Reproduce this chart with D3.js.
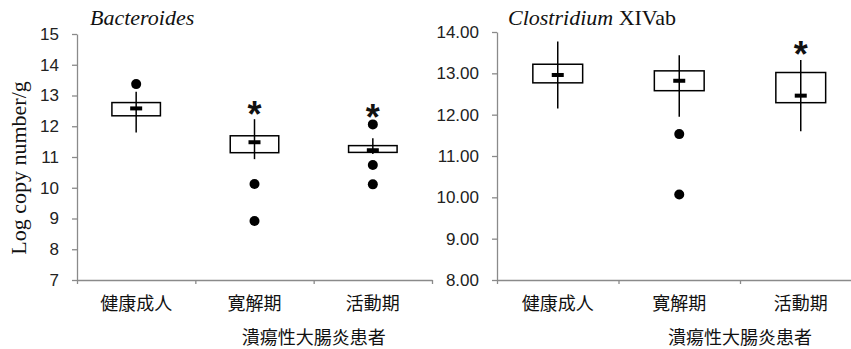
<!DOCTYPE html>
<html>
<head>
<meta charset="utf-8">
<script src="https://cdn.jsdelivr.net/npm/d3@7"></script>
<style>
  body { margin: 0; background: #fff; }
  svg { display: block; }
</style>
</head>
<body>
<div id="chart"></div>
<script>
(function(){

// categories (shared by both panels)
var groups = ["健康成人", "寛解期", "活動期"];
var groupTitle = "潰瘍性大腸炎患者";

// Bacteroides
var bactLow  = [11.80, 10.93, 11.10];
var bactQ1   = [12.34, 11.14, 11.15];
var bactMed  = [12.58, 11.48, 11.22];
var bactQ3   = [12.77, 11.69, 11.37];
var bactHigh = [13.12, 12.23, 11.61];
var bactOutliers = [[13.37], [10.12, 8.92], [12.06, 10.74, 10.11]];
var bactStars = [null, 12.64, 12.53];
var bactTicks = [7, 8, 9, 10, 11, 12, 13, 14, 15];

// Clostridium XIVab
var closLow  = [12.15, 11.95, 11.60];
var closQ1   = [12.77, 12.58, 12.29];
var closMed  = [12.96, 12.82, 12.46];
var closQ3   = [13.22, 13.06, 13.02];
var closHigh = [13.77, 13.44, 13.32];
var closOutliers = [[], [11.53, 10.07], []];
var closStars = [null, null, 13.64];
var closTicks = [8, 9, 10, 11, 12, 13, 14];

var W = 851, H = 349;
var axisColor = "#8a8a8a";
var tickFont = "'Liberation Sans Narrow', 'Liberation Sans', Arial, sans-serif";
var starFont = "'Liberation Sans', Arial, sans-serif";
var cjkFont = "'Noto Sans CJK JP', 'Noto Sans CJK SC', sans-serif";
var serif = "'Liberation Serif', 'Times New Roman', serif";

var svg = d3.select("#chart")
  .append("svg")
    .attr("width", W)
    .attr("height", H);

function panel(p) {
  var rows = groups.map(function(g, i) {
    return {
      name: g,
      low: p.low[i], q1: p.q1[i], med: p.med[i], q3: p.q3[i], high: p.high[i],
      outliers: p.outliers[i], star: p.stars[i]
    };
  });

  var y = d3.scaleLinear()
      .domain(d3.extent(p.ticks))
      .range([p.bottom, p.top]);

  var x = d3.scaleBand()
      .domain(groups)
      .range([p.left, p.right])
      .padding(0);

  var xEdge = d3.scaleLinear()
      .domain([0, groups.length])
      .range([p.left, p.right]);

  var g = svg.append("g");

  // y axis
  var ya = g.append("g")
      .attr("transform", "translate(" + p.left + ",0)")
      .call(d3.axisLeft(y).tickValues(p.ticks).tickFormat(p.fmt)
        .tickSize(5).tickSizeOuter(0).tickPadding(13));
  ya.select(".domain").attr("stroke", axisColor).attr("stroke-width", 1.3);
  ya.selectAll(".tick line").attr("stroke", axisColor).attr("stroke-width", 1.3);
  ya.selectAll(".tick text")
      .attr("fill", "#222")
      .style("font-family", tickFont)
      .style("font-size", "17px");

  // x axis line with tick marks at category borders
  var xa = g.append("g")
      .attr("transform", "translate(0," + p.bottom + ")")
      .call(d3.axisBottom(xEdge).tickValues(d3.range(groups.length + 1))
        .tickFormat("").tickSize(4).tickSizeOuter(0));
  xa.select(".domain").attr("stroke", axisColor).attr("stroke-width", 1.3);
  xa.selectAll(".tick line").attr("stroke", axisColor).attr("stroke-width", 1.3);

  // category labels
  g.selectAll(".cat")
    .data(groups)
    .enter()
    .append("text")
      .attr("x", function(d) { return x(d) + x.bandwidth() / 2; })
      .attr("y", p.bottom + 30)
      .attr("text-anchor", "middle")
      .style("font-family", cjkFont)
      .style("font-size", "18px")
      .attr("fill", "#111")
      .text(function(d) { return d; });

  g.append("text")
      .attr("x", (x(groups[1]) + x(groups[2]) + x.bandwidth()) / 2)
      .attr("y", p.bottom + 64)
      .attr("text-anchor", "middle")
      .style("font-family", cjkFont)
      .style("font-size", "18px")
      .attr("fill", "#111")
      .text(groupTitle);

  // title
  var t = g.append("text")
      .attr("x", p.titleX)
      .attr("y", 25)
      .style("font-family", serif)
      .style("font-size", "22px")
      .attr("fill", "#111");
  t.append("tspan").style("font-style", "italic").text(p.title);
  if (p.titleRest) t.append("tspan").text(p.titleRest);

  var bw = x.bandwidth() * 0.41;

  var box = g.selectAll(".box")
    .data(rows)
    .enter()
    .append("g")
      .attr("transform", function(d) {
        return "translate(" + (x(d.name) + x.bandwidth() / 2) + ",0)";
      });

  box.append("rect")
      .attr("x", -bw / 2)
      .attr("y", function(d) { return y(d.q3); })
      .attr("width", bw)
      .attr("height", function(d) { return y(d.q1) - y(d.q3); })
      .attr("fill", "none")
      .attr("stroke", "#000")
      .attr("stroke-width", 1.5);

  box.append("line")
      .attr("x1", 0).attr("x2", 0)
      .attr("y1", function(d) { return y(d.low); })
      .attr("y2", function(d) { return y(d.high); })
      .attr("stroke", "#000")
      .attr("stroke-width", 1.5);

  box.append("rect")
      .attr("x", -6)
      .attr("y", function(d) { return y(d.med) - 2; })
      .attr("width", 12)
      .attr("height", 4)
      .attr("fill", "#000");

  box.selectAll("circle")
    .data(function(d) { return d.outliers; })
    .enter()
    .append("circle")
      .attr("cx", 0)
      .attr("cy", function(d) { return y(d); })
      .attr("r", 5)
      .attr("fill", "#000");

  box.filter(function(d) { return d.star != null; })
    .append("text")
      .attr("x", 0)
      .attr("y", function(d) { return y(d.star) + 20; })
      .attr("text-anchor", "middle")
      .style("font-family", starFont)
      .style("font-weight", "bold")
      .style("font-size", "36px")
      .attr("fill", "#111")
      .text("*");
}

panel({
  left: 77, right: 432, top: 34, bottom: 280,
  ticks: bactTicks, fmt: d3.format("d"),
  low: bactLow, q1: bactQ1, med: bactMed, q3: bactQ3, high: bactHigh,
  outliers: bactOutliers, stars: bactStars,
  title: "Bacteroides", titleX: 90
});

panel({
  left: 497, right: 861.5, top: 32, bottom: 280,
  ticks: closTicks, fmt: d3.format(".2f"),
  low: closLow, q1: closQ1, med: closMed, q3: closQ3, high: closHigh,
  outliers: closOutliers, stars: closStars,
  title: "Clostridium", titleRest: " XIVab", titleX: 508
});

// y axis label
svg.append("text")
    .attr("transform", "translate(26,168) rotate(-90)")
    .attr("text-anchor", "middle")
    .style("font-family", serif)
    .style("font-size", "22px")
    .attr("fill", "#111")
    .text("Log copy number/g");

})()
</script>
</body>
</html>
